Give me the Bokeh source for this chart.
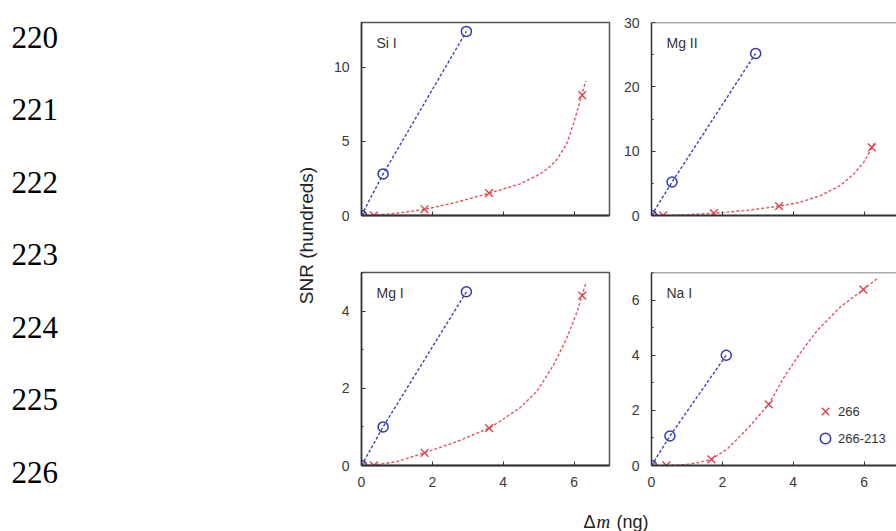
import math
from bokeh.plotting import figure
from bokeh.layouts import row, column
from bokeh.models import Range1d, FixedTicker, Label, Legend, LegendItem, Span
from bokeh.embed import file_html
from bokeh.resources import INLINE
from bokeh.core.properties import value

# ---------------- data ----------------
line_numbers = ["220", "221", "222", "223", "224", "225", "226", "227"]

panel_names = ["Si I", "Mg II", "Mg I", "Na I"]
y_max = [13, 30, 5, 7]
y_major_ticks = [[0, 5, 10], [0, 10, 20, 30], [0, 2, 4], [0, 2, 4, 6]]
y_minor_ticks = [[], [5, 15, 25], [1, 3, 5], [1, 3, 5, 7]]
x_ticks = [0, 2, 4, 6]

series_labels = ["266", "266-213"]

# Si I
si_213_x = [0, 0.61, 2.96]
si_213_y = [0, 2.8, 12.4]
si_266_x = [0, 0.35, 1.78, 3.6, 6.23]
si_266_y = [0, 0, 0.42, 1.5, 8.1]
si_fit_x = [0, 0.35, 1.0, 1.8, 2.7, 3.6, 4.48, 5.04, 5.3, 5.51, 5.79, 5.98, 6.12, 6.22, 6.33]
si_fit_y = [0, 0.02, 0.15, 0.42, 0.9, 1.5, 2.13, 2.8, 3.25, 3.75, 4.81, 6.15, 7.3, 8.17, 9.06]

# Mg II
mg2_213_x = [0, 0.58, 2.94]
mg2_213_y = [0, 5.2, 25.2]
mg2_266_x = [0, 0.33, 1.76, 3.6, 6.22]
mg2_266_y = [0, 0, 0.35, 1.45, 10.6]
mg2_fit_x = [0, 0.33, 1.0, 1.76, 2.7, 3.6, 4.2, 4.77, 5.33, 5.71, 5.99, 6.18, 6.32]
mg2_fit_y = [0, 0.02, 0.12, 0.35, 0.8, 1.45, 2.06, 3.1, 4.65, 6.46, 8.27, 10.1, 11.6]

# Mg I
mg1_213_x = [0, 0.61, 2.96]
mg1_213_y = [0, 1.0, 4.5]
mg1_266_x = [0, 0.35, 1.78, 3.6, 6.23]
mg1_266_y = [0, 0, 0.33, 0.97, 4.4]
mg1_fit_x = [0, 0.35, 1.0, 1.78, 2.7, 3.6, 3.92, 4.48, 4.95, 5.42, 5.79, 6.08, 6.22, 6.34]
mg1_fit_y = [0, 0.01, 0.1, 0.33, 0.62, 0.97, 1.15, 1.5, 1.92, 2.6, 3.29, 3.97, 4.4, 4.74]

# Na I
na_213_x = [0, 0.52, 2.11]
na_213_y = [0, 1.07, 4.0]
na_266_x = [0, 0.42, 1.69, 3.31, 5.98]
na_266_y = [0, 0, 0.22, 2.22, 6.38]
na_fit_x = [0, 0.42, 0.92, 1.3, 1.69, 2.14, 2.7, 3.31, 3.74, 4.21, 4.68, 5.33, 5.98, 6.39]
na_fit_y = [0, 0, 0.03, 0.1, 0.22, 0.6, 1.32, 2.22, 3.2, 4.1, 4.9, 5.75, 6.38, 6.8]

panel_data = [
    (si_213_x, si_213_y, si_266_x, si_266_y, si_fit_x, si_fit_y),
    (mg2_213_x, mg2_213_y, mg2_266_x, mg2_266_y, mg2_fit_x, mg2_fit_y),
    (mg1_213_x, mg1_213_y, mg1_266_x, mg1_266_y, mg1_fit_x, mg1_fit_y),
    (na_213_x, na_213_y, na_266_x, na_266_y, na_fit_x, na_fit_y),
]

# ---------------- style ----------------
SANS = "Liberation Sans"
SERIF = "Liberation Serif"
RED = "#e0434b"
RED_LINE = "#db5862"
BLUE = "#3438b0"
BLUE_LINE = "#3a44b4"
AXIS = "#333333"
FRAME = "#555555"
TICK_TXT = "#3a3a3a"

FRAME_W_LEFT = 248
X_MAX_LEFT = 7.0
PX_PER_X = FRAME_W_LEFT / X_MAX_LEFT
FRAME_W_RIGHT = 245
X_MAX_RIGHT = FRAME_W_RIGHT / PX_PER_X
FRAME_H = 193


def make_panel(i, top_row, left_col):
    name = panel_names[i]
    bx, by, rx, ry, fx, fy = panel_data[i]
    x_end = X_MAX_LEFT if left_col else X_MAX_RIGHT
    if left_col:
        width, mbl, mbr = 288, 31, 9
    else:
        width, mbl, mbr = 278, 33, 0
    height, mbt, mbb = 250, 22, 35
    p = figure(width=width, height=height,
               x_range=Range1d(0, x_end), y_range=Range1d(0, y_max[i]),
               min_border_left=mbl, min_border_right=mbr,
               min_border_top=mbt, min_border_bottom=mbb,
               toolbar_location=None, output_backend="svg")
    p.grid.visible = False
    p.background_fill_color = "white"
    p.border_fill_color = "white"
    if left_col:
        p.outline_line_color = FRAME
        p.outline_line_width = 1.5
    else:
        p.outline_line_color = None
        p.add_layout(Span(location=y_max[i], dimension="width",
                          line_color=FRAME, line_width=1.5))

    p.xaxis.ticker = FixedTicker(ticks=x_ticks, minor_ticks=[])
    p.yaxis.ticker = FixedTicker(ticks=y_major_ticks[i], minor_ticks=y_minor_ticks[i])
    for ax in p.axis:
        ax.major_tick_in = 4
        ax.major_tick_out = 0
        ax.minor_tick_in = 2
        ax.minor_tick_out = 0
        ax.major_tick_line_color = AXIS
        ax.minor_tick_line_color = AXIS
        ax.axis_line_color = AXIS
        ax.major_label_text_font = SANS
        ax.major_label_text_font_size = "14px"
        ax.major_label_text_color = TICK_TXT
    p.yaxis.axis_line_width = 1.5
    p.xaxis.axis_line_width = 2
    p.yaxis.major_label_standoff = 12
    p.xaxis.major_label_standoff = 11
    if top_row:
        p.xaxis.major_label_overrides = {t: "" for t in x_ticks}

    p.line(fx, fy, line_color=RED_LINE, line_width=1.4, line_dash="3 2")
    p.line(bx, by, line_color=BLUE_LINE, line_width=1.4, line_dash="3 2")
    r_red = p.scatter(rx, ry, marker="x", size=11, line_color=RED, line_width=1.4)
    r_blue = p.scatter(bx, by, marker="circle", size=10, line_color=BLUE,
                       line_width=1.5, fill_color=None)

    p.add_layout(Label(x=15 / PX_PER_X, y=y_max[i] - 20 * y_max[i] / FRAME_H,
                       text=name, text_font=SANS, text_font_size="14px",
                       text_color="#333333", text_baseline="alphabetic"))
    return p, r_red, r_blue


p_si, _, _ = make_panel(0, True, True)
p_mg2, _, _ = make_panel(1, True, False)
p_mg1, _, _ = make_panel(2, False, True)
p_na, na_red, na_blue = make_panel(3, False, False)

legend = Legend(items=[LegendItem(label=series_labels[0], renderers=[na_red]),
                       LegendItem(label=series_labels[1], renderers=[na_blue])],
                location=(161, 14), orientation="vertical",
                glyph_width=26, glyph_height=26, label_height=26,
                label_standoff=0, spacing=1, padding=0, margin=0,
                border_line_color=None, background_fill_alpha=0,
                label_text_font=SANS, label_text_font_size="13px",
                label_text_color="#333333")
p_na.add_layout(legend)

# left margin: line numbers + shared y title
LW, LH = 330, 531
left = figure(width=LW, height=LH, x_range=Range1d(0, LW), y_range=Range1d(LH, 0),
              x_axis_location=None, y_axis_location=None, min_border=0,
              toolbar_location=None, output_backend="svg")
left.grid.visible = False
left.outline_line_color = None
first_baseline, line_step = 36.7, 72.55
left.text(x=[11] * len(line_numbers),
          y=[first_baseline + k * line_step for k in range(len(line_numbers))],
          text=line_numbers, text_font=value(SERIF), text_font_size="31px",
          text_color="#000000", text_align="left", text_baseline="alphabetic")
left.text(x=[305.5], y=[235], text=["SNR (hundreds)"], angle=math.pi / 2,
          text_font=value(SANS), text_font_size="19px", text_color="#222222",
          text_align="center", text_baseline="middle")

# bottom shared x title
XW, XH = 566, 31
xlab = figure(width=XW, height=XH, x_range=Range1d(0, XW), y_range=Range1d(XH, 0),
              x_axis_location=None, y_axis_location=None, min_border=0,
              toolbar_location=None, output_backend="svg")
xlab.grid.visible = False
xlab.outline_line_color = None
base = 21
xlab.text(x=[253], y=[base], text=["Δ"], text_font=value(SANS), text_font_size="18px",
          text_color="#222222", text_baseline="alphabetic")
xlab.text(x=[266], y=[base], text=["m"], text_font=value(SERIF), text_font_size="19px",
          text_font_style="italic", text_color="#222222", text_baseline="alphabetic")
xlab.text(x=[286], y=[base], text=["(ng)"], text_font=value(SANS), text_font_size="18px",
          text_color="#222222", text_baseline="alphabetic")

grid = column(row(p_si, p_mg2), row(p_mg1, p_na), xlab)
page = row(left, grid)

open("out.html", "w").write(file_html(page, INLINE))
